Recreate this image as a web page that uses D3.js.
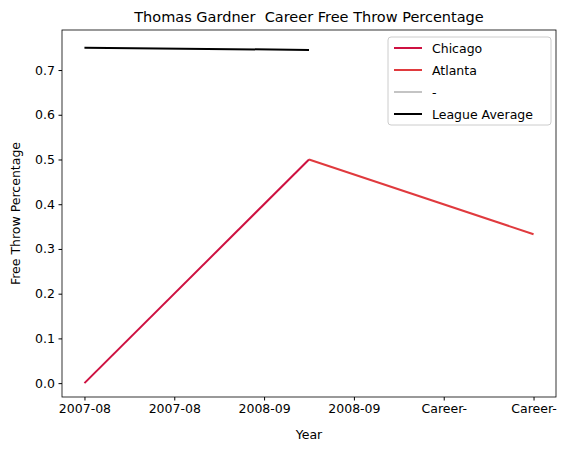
<!DOCTYPE html><html><head><script src="https://cdn.jsdelivr.net/npm/d3@7"></script>
<style>body{margin:0;background:#fff}text{font-family:"DejaVu Sans",sans-serif;font-size:12.5px;white-space:pre}</style></head><body>
<svg id="c" width="570" height="453"></svg>
<script>
const tickLabels=["2007-08","2007-08","2008-09","2008-09","Career-","Career-"];
const tickPos=[0,0.4,0.8,1.2,1.6,2.0];
const chicago=[[0,0],[1,0.5]];
const atlanta=[[1,0.5],[2,0.333]];
const league=[[0,0.75],[1,0.745]];
const series=[{name:"Chicago",color:"#CE1141",data:chicago},{name:"Atlanta",color:"#E03A3E",data:atlanta},{name:"-",color:"#C4C4C4",data:[]},{name:"League Average",color:"#000000",data:league}];
const svg=d3.select("#c");
const L=62,R=556,T=30,B=397;
const x=d3.scaleLinear().domain([-0.1,2.1]).range([L,R]);
const y=d3.scaleLinear().domain([-0.031,0.7895]).range([B,T]);
const xa=d3.axisBottom(x).tickValues(tickPos).tickFormat((d,i)=>tickLabels[i]).tickSizeOuter(0).tickSize(3.5).tickPadding(3.5);
const ya=d3.axisLeft(y).tickValues([0,0.1,0.2,0.3,0.4,0.5,0.6,0.7]).tickFormat(d3.format(".1f")).tickSizeOuter(0).tickSize(3.5).tickPadding(3.5);
svg.append("g").attr("transform",`translate(0,${B})`).call(xa).call(g=>g.select(".domain").remove()).selectAll("text").style("font-size","12.5px").attr("fill","#000");
svg.append("g").attr("transform",`translate(${L},0)`).call(ya).call(g=>g.select(".domain").remove()).selectAll("text").style("font-size","12.5px").attr("fill","#000");
svg.append("rect").attr("x",L).attr("y",T).attr("width",R-L).attr("height",B-T).attr("fill","none").attr("stroke","#000").attr("stroke-width",0.8);
const line=d3.line().x(d=>x(d[0])).y(d=>y(d[1]));
series.forEach(s=>{if(s.data.length)svg.append("path").attr("d",line(s.data)).attr("fill","none").attr("stroke",s.color).attr("stroke-width",2);});
svg.append("text").attr("x",(L+R)/2).attr("y",22).attr("text-anchor","middle").style("font-size","14.5px").text("Thomas Gardner  Career Free Throw Percentage");
svg.append("text").attr("x",(L+R)/2).attr("y",439).attr("text-anchor","middle").text("Year");
svg.append("text").attr("transform",`translate(20,${(T+B)/2}) rotate(-90)`).attr("text-anchor","middle").text("Free Throw Percentage");
const lg=svg.append("g");
lg.append("rect").attr("x",388).attr("y",37).attr("width",163).attr("height",88).attr("rx",3).attr("fill","#fff").attr("stroke","#ccc");
series.forEach((s,i)=>{const yy=48+i*22;
lg.append("line").attr("x1",394).attr("x2",422).attr("y1",yy).attr("y2",yy).attr("stroke",s.color).attr("stroke-width",2);
lg.append("text").attr("x",432).attr("y",yy+4.5).text(s.name);});
</script></body></html>
